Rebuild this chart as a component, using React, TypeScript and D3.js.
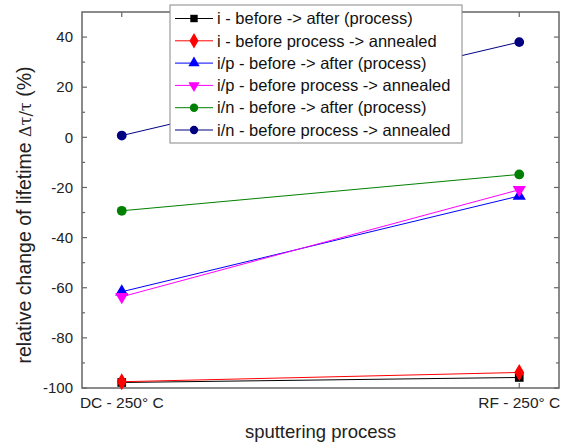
import React, { useEffect, useRef } from 'react'
import * as d3 from 'd3'

const categories = ['DC - 250° C', 'RF - 250° C']
const seriesNames = [
  'i - before -> after (process)',
  'i - before process -> annealed',
  'i/p - before -> after (process)',
  'i/p - before process -> annealed',
  'i/n - before -> after (process)',
  'i/n - before process -> annealed',
]
const iAfter = [-97.8, -95.8]
const iAnnealed = [-97.5, -93.8]
const ipAfter = [-61.6, -23.4]
const ipAnnealed = [-63.6, -20.9]
const inAfter = [-29.3, -14.8]
const inAnnealed = [0.7, 38]
const yTicks = [-100, -80, -60, -40, -20, 0, 20, 40]

const colors = ['#000000', '#ff0000', '#0000ff', '#ff00ff', '#008000', '#000080']
const symbols = [d3.symbolSquare, d3.symbolDiamond, d3.symbolTriangle, d3.symbolTriangle, d3.symbolCircle, d3.symbolCircle]

function drawChart(node: SVGSVGElement) {
  const svg = d3.select(node)
  svg.selectAll('*').remove()
  const margin = { top: 12, right: 6, bottom: 58, left: 82 }
  const width = 565 - margin.left - margin.right
  const height = 446 - margin.top - margin.bottom
  const font = 'Liberation Sans, Arial, sans-serif'
  const axisColor = '#666'

  const x = d3.scalePoint<string>().domain(categories).range([0, width]).padding(0.1)
  const y = d3.scaleLinear().domain([-100, 50]).range([height, 0])

  const g = svg.append('g').attr('transform', `translate(${margin.left},${margin.top})`)

  // frame
  g.append('rect')
    .attr('width', width).attr('height', height)
    .attr('fill', 'none').attr('stroke', axisColor).attr('stroke-width', 1.5)

  // y ticks, inside on both sides
  const minor = d3.range(-90, 50, 20)
  const tickG = g.append('g').attr('stroke', axisColor).attr('stroke-width', 1.2)
  yTicks.forEach((t) => {
    tickG.append('line').attr('x1', 0).attr('x2', 5).attr('y1', y(t)).attr('y2', y(t))
    tickG.append('line').attr('x1', width - 5).attr('x2', width).attr('y1', y(t)).attr('y2', y(t))
  })
  minor.forEach((t) => {
    tickG.append('line').attr('x1', 0).attr('x2', 3).attr('y1', y(t)).attr('y2', y(t))
    tickG.append('line').attr('x1', width - 3).attr('x2', width).attr('y1', y(t)).attr('y2', y(t))
  })
  categories.forEach((c) => {
    tickG.append('line').attr('x1', x(c)!).attr('x2', x(c)!).attr('y1', height).attr('y2', height - 5)
    tickG.append('line').attr('x1', x(c)!).attr('x2', x(c)!).attr('y1', 0).attr('y2', 5)
  })

  g.selectAll('.ylab')
    .data(yTicks)
    .enter()
    .append('text')
    .attr('x', -9)
    .attr('y', (d) => y(d))
    .attr('dy', '0.35em')
    .attr('text-anchor', 'end')
    .attr('font-family', font)
    .attr('font-size', 15)
    .attr('fill', '#222')
    .text((d) => d)

  g.selectAll('.xlab')
    .data(categories)
    .enter()
    .append('text')
    .attr('x', (d) => x(d)!)
    .attr('y', height + 20)
    .attr('text-anchor', 'middle')
    .attr('font-family', font)
    .attr('font-size', 15.5)
    .attr('fill', '#222')
    .text((d) => d)

  // axis titles
  g.append('text')
    .attr('x', width / 2)
    .attr('y', height + 50)
    .attr('text-anchor', 'middle')
    .attr('font-family', font)
    .attr('font-size', 18.5)
    .attr('fill', '#222')
    .text('sputtering process')

  const yTitle = svg.append('text')
    .attr('transform', 'translate(31,215) rotate(-90)')
    .attr('text-anchor', 'middle')
    .attr('font-family', font)
    .attr('font-size', 19.5)
    .attr('fill', '#222')
  yTitle.append('tspan').text('relative change of lifetime ')
  yTitle.append('tspan').attr('font-family', 'DejaVu Serif, serif').attr('font-size', 16).text('Δτ/τ')
  yTitle.append('tspan').text(' (%)')

  const data = [iAfter, iAnnealed, ipAfter, ipAnnealed, inAfter, inAnnealed]
  const line = d3.line<number>()
    .x((_, i) => x(categories[i])!)
    .y((d) => y(d))

  const markerPath = (i: number, size: number) => d3.symbol().type(symbols[i]).size(size)()

  data.forEach((vals, i) => {
    g.append('path')
      .attr('d', line(vals))
      .attr('fill', 'none')
      .attr('stroke', colors[i])
      .attr('stroke-width', 1)
    g.selectAll(`.m${i}`)
      .data(vals)
      .enter()
      .append('path')
      .attr('d', markerPath(i, i === 1 ? 85 : 75))
      .attr('transform', (d, j) => `translate(${x(categories[j])},${y(d)})${i === 3 ? ' rotate(180)' : ''}`)
      .attr('fill', colors[i])
  })

  // legend
  const lg = svg.append('g').attr('transform', 'translate(170,5)')
  lg.append('rect')
    .attr('width', 292).attr('height', 138)
    .attr('fill', 'white').attr('stroke', '#888').attr('stroke-width', 1)
  seriesNames.forEach((name, i) => {
    const cy = 13.5 + i * 22.3
    lg.append('line').attr('x1', 5).attr('x2', 43).attr('y1', cy).attr('y2', cy)
      .attr('stroke', colors[i]).attr('stroke-width', 1)
    lg.append('path')
      .attr('d', markerPath(i, i === 1 ? 70 : 55))
      .attr('transform', `translate(24,${cy})${i === 3 ? ' rotate(180)' : ''}`)
      .attr('fill', colors[i])
    lg.append('text')
      .attr('x', 47).attr('y', cy).attr('dy', '0.35em')
      .attr('font-family', font).attr('font-size', 16.5).attr('fill', '#111')
      .text(name)
  })
}

export default function App() {
  const ref = useRef<SVGSVGElement>(null)
  useEffect(() => {
    if (ref.current) drawChart(ref.current)
  }, [])
  return (
    <svg
      ref={ref}
      width={565}
      height={446}
      style={{ position: 'absolute', left: 0, top: 0, background: 'white' }}
    />
  )
}
